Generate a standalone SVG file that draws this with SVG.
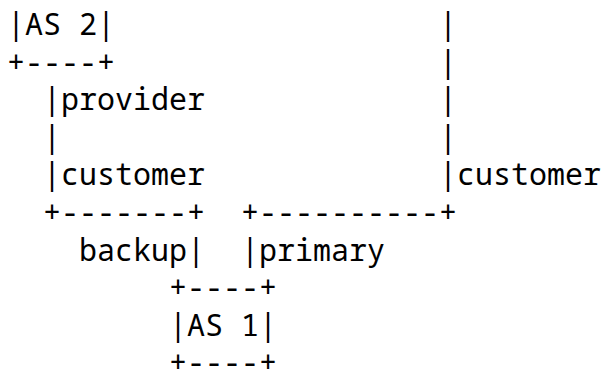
<svg xmlns="http://www.w3.org/2000/svg" width="603" height="373" viewBox="0 0 603 373">
<style>
text{font-family:"Noto Sans Mono","DejaVu Sans Mono",monospace;font-size:30px;fill:#000;white-space:pre}
</style>
<rect width="603" height="373" fill="#fff"/>
<g id="art" xml:space="preserve">
<text x="7" y="35">|AS 2|                  |</text>
<text x="7" y="72.6">+----+                  |</text>
<text x="7" y="110.2">  |provider             |</text>
<text x="7" y="147.8">  |                     |</text>
<text x="7" y="185.4">  |customer             |customer</text>
<text x="7" y="223">  +-------+  +----------+</text>
<text x="7" y="260.6">    backup|  |primary</text>
<text x="7" y="298.2">         +----+</text>
<text x="7" y="335.8">         |AS 1|</text>
<text x="7" y="373">         +----+</text>
</g>
</svg>
